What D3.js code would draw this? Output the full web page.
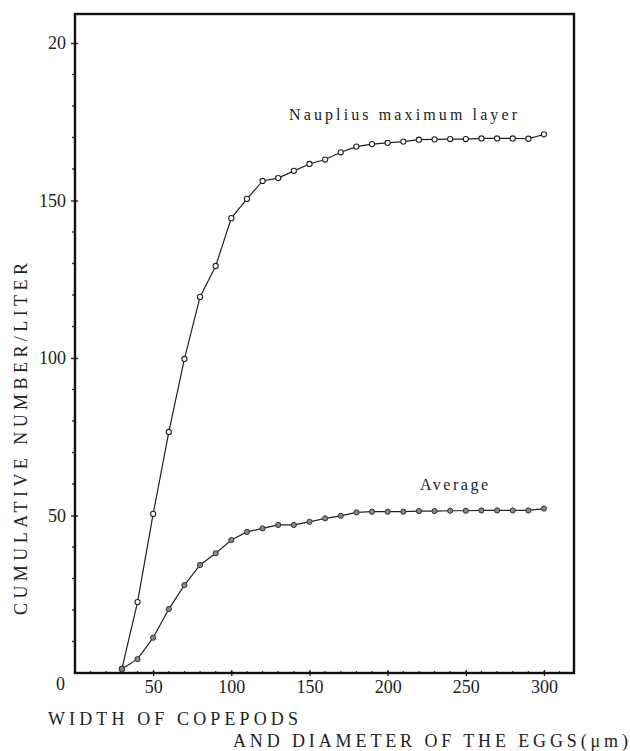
<!DOCTYPE html>
<html>
<head>
<meta charset="utf-8">
<script src="https://cdn.jsdelivr.net/npm/d3@7"></script>
<style>
  html, body { margin: 0; padding: 0; background: #fff; }
  svg { display: block; }
  text { font-family: "Liberation Serif", "Times New Roman", serif; fill: #222; }
</style>
</head>
<body>
<svg id="chart" width="630" height="751"></svg>
<script>
// ---- data ----
const sizes = [30,40,50,60,70,80,90,100,110,120,130,140,150,160,170,180,190,200,210,220,230,240,250,260,270,280,290,300];
const nauplius = [1.3,22.5,50.5,76.5,99.7,119.4,129.2,144.4,150.5,156.2,157.1,159.4,161.6,163.0,165.3,167.1,167.9,168.3,168.7,169.3,169.4,169.5,169.5,169.7,169.7,169.7,169.6,171.0];
const average = [1.3,4.4,11.2,20.3,27.9,34.3,38.0,42.2,44.8,45.9,47.0,47.0,48.0,49.1,49.9,51.0,51.2,51.2,51.2,51.4,51.4,51.5,51.5,51.6,51.6,51.6,51.6,52.2];
const xTicks = [50,100,150,200,250,300];
const xTickLabels = ["50","100","150","200","250","300"];
const yTicks = [0,50,100,150,200];
const yTickLabels = ["0","50","100","150","20"];
const seriesLabels = ["Nauplius maximum layer","Average"];
const yTitle = "CUMULATIVE NUMBER/LITER";
const xTitle1 = "WIDTH OF COPEPODS";
const xTitle2 = "AND DIAMETER OF THE EGGS(\u03bcm)";

// ---- layout ----
const FONT = "'Liberation Serif', 'Times New Roman', serif";
const svg = d3.select("#chart");
const L = 75, R = 574, T = 14, B = 673;
const x = d3.scaleLinear().domain([0, 319.2]).range([L, R]);
const y = d3.scaleLinear().domain([0, 209.2]).range([B, T]);

// minor ticks on y (outward, left)
const yMinor = d3.range(10, 210, 10).filter(v => v % 50 !== 0);
svg.append("g").selectAll("line").data(yMinor).join("line")
  .attr("x1", L - 3).attr("x2", L)
  .attr("y1", d => y(d)).attr("y2", d => y(d))
  .attr("stroke", "#222").attr("stroke-width", 1.3);

// y axis with major ticks
const yAxis = d3.axisLeft(y).tickValues(yTicks)
  .tickFormat((d, i) => yTickLabels[i]).tickSizeInner(4).tickSizeOuter(0).tickPadding(5);
const gy = svg.append("g").attr("transform", `translate(${L},0)`).call(yAxis)
  .attr("font-family", FONT);
gy.select(".domain").remove();
gy.selectAll(".tick line").attr("stroke", "#222").attr("stroke-width", 1.4).attr("x2", 3).attr("x1", -4);
gy.selectAll(".tick text").style("font-family", FONT).style("font-size", "18px").attr("fill", "#333");
gy.selectAll(".tick").filter(d => d === 0).select("text").attr("dy", "0.9em").attr("x", -10);
gy.selectAll(".tick").filter(d => d === 0).select("line").remove();

// x minor ticks
const xMinor = d3.range(10, 320, 10);
svg.append("g").selectAll("line").data(xMinor).join("line")
  .attr("x1", d => x(d)).attr("x2", d => x(d))
  .attr("y1", B - 2).attr("y2", B + 1)
  .attr("stroke", "#222").attr("stroke-width", 1.1);

const xAxis = d3.axisBottom(x).tickValues(xTicks)
  .tickFormat((d, i) => xTickLabels[i]).tickSizeInner(3).tickSizeOuter(0).tickPadding(4);
const gx = svg.append("g").attr("transform", `translate(0,${B})`).call(xAxis)
  .attr("font-family", FONT);
gx.select(".domain").remove();
gx.selectAll(".tick line").attr("stroke", "#222").attr("stroke-width", 1.3).attr("y1", -3);
gx.selectAll(".tick text").style("font-family", FONT).style("font-size", "18px").attr("fill", "#333");

// frame
svg.append("rect").attr("x", L).attr("y", T).attr("width", R - L).attr("height", B - T)
  .attr("fill", "none").attr("stroke", "#111").attr("stroke-width", 2.4);

// lines
const line = d3.line().x((d, i) => x(sizes[i])).y(d => y(d));
svg.append("path").datum(nauplius).attr("d", line)
  .attr("fill", "none").attr("stroke", "#222").attr("stroke-width", 1.2);
svg.append("path").datum(average).attr("d", line)
  .attr("fill", "none").attr("stroke", "#222").attr("stroke-width", 1.2);

// markers
svg.append("g").selectAll("circle").data(nauplius).join("circle")
  .attr("cx", (d, i) => x(sizes[i])).attr("cy", d => y(d)).attr("r", 2.6)
  .attr("fill", "#fff").attr("stroke", "#222").attr("stroke-width", 1.1);
svg.append("g").selectAll("circle").data(average).join("circle")
  .attr("cx", (d, i) => x(sizes[i])).attr("cy", d => y(d)).attr("r", 2.6)
  .attr("fill", "#888").attr("stroke", "#333").attr("stroke-width", 1);

// series labels
svg.append("text").attr("x", 289).attr("y", 120).text(seriesLabels[0])
  .style("font-family", FONT).style("font-size", "16px")
  .attr("textLength", 228).attr("lengthAdjust", "spacing");
svg.append("text").attr("x", 420).attr("y", 490).text(seriesLabels[1])
  .style("font-family", FONT).style("font-size", "16px")
  .attr("textLength", 68).attr("lengthAdjust", "spacing");

// axis titles
svg.append("text").attr("transform", "translate(27,615) rotate(-90)")
  .text(yTitle).style("font-family", FONT).style("font-size", "18px")
  .attr("textLength", 352).attr("lengthAdjust", "spacing");
svg.append("text").attr("x", 48).attr("y", 725).text(xTitle1)
  .style("font-family", FONT).style("font-size", "18px")
  .attr("textLength", 250).attr("lengthAdjust", "spacing");
svg.append("text").attr("x", 233).attr("y", 747).text(xTitle2)
  .style("font-family", FONT).style("font-size", "18px")
  .attr("textLength", 395).attr("lengthAdjust", "spacing");
</script>
</body>
</html>
